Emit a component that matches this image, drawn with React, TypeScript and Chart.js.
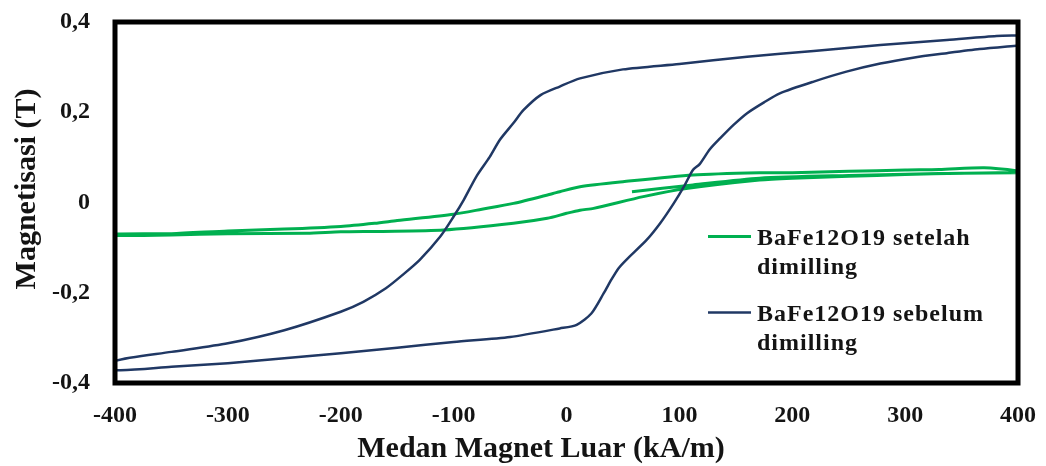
import React, { useEffect, useRef } from "react";
import { Chart, registerables } from "chart.js";

Chart.register(...registerables);

// ---------- data ----------
const xTickValues = [-400, -300, -200, -100, 0, 100, 200, 300, 400];
const xTickLabels = ["-400", "-300", "-200", "-100", "0", "100", "200", "300", "400"];
const yTickValues = [-0.4, -0.2, 0, 0.2, 0.4];
const yTickLabels = ["-0,4", "-0,2", "0", "0,2", "0,4"];

const xTitle = "Medan Magnet Luar (kA/m)";
const yTitle = "Magnetisasi (T)";

const seriesAfterLabel = ["BaFe12O19 setelah", "dimilling"];
const seriesBeforeLabel = ["BaFe12O19 sebelum", "dimilling"];

// BaFe12O19 sebelum dimilling – descending branch (400 -> -400)
const beforeDescending: [number, number][] = [
  [400, 0.370], [381, 0.369], [337, 0.360], [278, 0.349], [219, 0.336],
  [160, 0.323], [100, 0.307], [50, 0.295], [12, 0.275], [-6, 0.257],
  [-23, 0.238], [-38, 0.205], [-47, 0.176], [-59, 0.139], [-68, 0.101],
  [-80, 0.057], [-91, 0.006], [-100, -0.031], [-112, -0.076], [-130, -0.127],
  [-145, -0.160], [-160, -0.190], [-180, -0.220], [-200, -0.242],
  [-250, -0.283], [-300, -0.312], [-350, -0.331], [-400, -0.351],
];

// BaFe12O19 sebelum dimilling – ascending branch (-400 -> 400)
const beforeAscending: [number, number][] = [
  [-400, -0.371], [-350, -0.364], [-300, -0.356], [-250, -0.345], [-200, -0.334],
  [-150, -0.322], [-100, -0.309], [-50, -0.298], [-6, -0.279], [9, -0.271],
  [22, -0.246], [33, -0.201], [40, -0.170], [46, -0.146], [53, -0.127],
  [71, -0.083], [83, -0.046], [95, -0.002], [104, 0.035], [112, 0.072],
  [118, 0.085], [127, 0.118], [136, 0.142], [148, 0.172], [160, 0.198],
  [175, 0.222], [189, 0.242], [219, 0.268], [248, 0.290], [278, 0.308],
  [307, 0.321], [337, 0.331], [366, 0.340], [400, 0.348],
];

// BaFe12O19 setelah dimilling – initial segment
const afterInitial: [number, number][] = [
  [58, 0.024], [112, 0.039], [171, 0.054], [250, 0.060], [330, 0.064], [400, 0.067],
];

// BaFe12O19 setelah dimilling – descending branch
const afterDescending: [number, number][] = [
  [400, 0.070], [370, 0.077], [330, 0.073], [300, 0.072], [250, 0.069],
  [200, 0.066], [171, 0.066], [112, 0.061], [50, 0.046], [12, 0.035],
  [-6, 0.024], [-12, 0.020], [-47, -0.002], [-75, -0.015], [-100, -0.026],
  [-150, -0.040], [-170, -0.046], [-200, -0.053], [-250, -0.059],
  [-300, -0.063], [-350, -0.069], [-400, -0.070],
];

// BaFe12O19 setelah dimilling – ascending branch
const afterAscending: [number, number][] = [
  [-400, -0.073], [-350, -0.072], [-300, -0.069], [-230, -0.068], [-200, -0.065],
  [-165, -0.064], [-109, -0.061], [-47, -0.046], [-17, -0.035], [0, -0.024],
  [12, -0.017], [24, -0.013], [68, 0.013], [106, 0.031], [171, 0.050],
  [200, 0.054], [250, 0.058], [300, 0.062], [350, 0.065], [400, 0.066],
];

const GREEN = "#00B050";
const NAVY = "#203864";
const TEXT = "#141414";
const FONT = "'Liberation Serif', 'Times New Roman', serif";

const toPts = (arr: [number, number][]) => arr.map(([x, y]) => ({ x, y }));

export default function App() {
  const canvasRef = useRef<HTMLCanvasElement | null>(null);

  useEffect(() => {
    if (!canvasRef.current) return;

    const decorPlugin = {
      id: "decor",
      afterDatasetsDraw(chart: any) {
        const { ctx, chartArea } = chart;
        const { left, right, top, bottom } = chartArea;
        ctx.save();
        // frame
        ctx.strokeStyle = "#000";
        ctx.lineWidth = 5;
        ctx.strokeRect(left, top, right - left, bottom - top);

        // legend
        const legendItems = [
          { color: GREEN, lines: seriesAfterLabel, y: 236.5, width: 3 },
          { color: NAVY, lines: seriesBeforeLabel, y: 312.5, width: 2.5 },
        ];
        ctx.font = `bold 24px ${FONT}`;
        ctx.fillStyle = TEXT;
        ctx.textAlign = "left";
        ctx.textBaseline = "alphabetic";
        try { (ctx as any).letterSpacing = "1px"; } catch (e) {}
        legendItems.forEach((it) => {
          ctx.strokeStyle = it.color;
          ctx.lineWidth = it.width;
          ctx.beginPath();
          ctx.moveTo(right - 310, it.y);
          ctx.lineTo(right - 267, it.y);
          ctx.stroke();
          it.lines.forEach((t, i) => {
            ctx.fillText(t, right - 261, it.y + 8 + i * 29.5);
          });
        });
        try { (ctx as any).letterSpacing = "0px"; } catch (e) {}

        // axis titles
        ctx.font = `bold 30px ${FONT}`;
        ctx.textAlign = "center";
        ctx.fillText(xTitle, 541, 457);
        ctx.save();
        ctx.translate(35, 189);
        ctx.rotate(-Math.PI / 2);
        ctx.font = `bold 30px ${FONT}`;
        ctx.fillText(yTitle, 0, 0);
        ctx.restore();
        ctx.restore();
      },
    };

    const chart = new Chart(canvasRef.current, {
      type: "line",
      data: {
        datasets: [
          {
            label: "BaFe12O19 sebelum dimilling",
            data: [...toPts(beforeDescending), ...toPts(beforeAscending)],
            borderColor: NAVY,
            borderWidth: 2.5,
            pointRadius: 0,
            tension: 0.25,
            fill: false,
          },
          {
            label: "BaFe12O19 setelah dimilling",
            data: [...toPts(afterInitial), ...toPts(afterDescending), ...toPts(afterAscending)],
            borderColor: GREEN,
            borderWidth: 3,
            pointRadius: 0,
            tension: 0.25,
            fill: false,
          },
        ],
      },
      options: {
        animation: false,
        responsive: true,
        maintainAspectRatio: false,
        parsing: false as any,
        layout: { padding: { top: 22, right: 28, left: 0, bottom: 0 } },
        plugins: {
          legend: { display: false },
          tooltip: { enabled: false },
        },
        scales: {
          x: {
            type: "linear",
            min: -400,
            max: 400,
            grid: { display: false },
            border: { display: false },
            afterBuildTicks: (scale: any) => {
              scale.ticks = xTickValues.map((v) => ({ value: v }));
            },
            afterFit: (scale: any) => {
              scale.height = 83;
              scale.paddingLeft = 0;
              scale.paddingRight = 0;
            },
            ticks: {
              padding: 10,
              color: TEXT,
              maxRotation: 0,
              font: { family: FONT, size: 24, weight: "bold" },
              callback: (v: any) => {
                const i = xTickValues.indexOf(Number(v));
                return i >= 0 ? xTickLabels[i] : "";
              },
            },
          },
          y: {
            type: "linear",
            min: -0.4,
            max: 0.4,
            grid: { display: false },
            border: { display: false },
            afterBuildTicks: (scale: any) => {
              scale.ticks = yTickValues.map((v) => ({ value: v }));
            },
            afterFit: (scale: any) => {
              scale.width = 115;
              scale.paddingTop = 0;
              scale.paddingBottom = 0;
            },
            ticks: {
              padding: 17,
              color: TEXT,
              font: { family: FONT, size: 24, weight: "bold" },
              callback: (v: any) => {
                const i = yTickValues.findIndex((t) => Math.abs(t - Number(v)) < 1e-9);
                return i >= 0 ? yTickLabels[i] : "";
              },
            },
          },
        },
      },
      plugins: [decorPlugin],
    } as any);

    return () => chart.destroy();
  }, []);

  return (
    <div style={{ position: "absolute", left: 0, top: 0, width: 1046, height: 466, background: "#fff" }}>
      <canvas ref={canvasRef} />
    </div>
  );
}
